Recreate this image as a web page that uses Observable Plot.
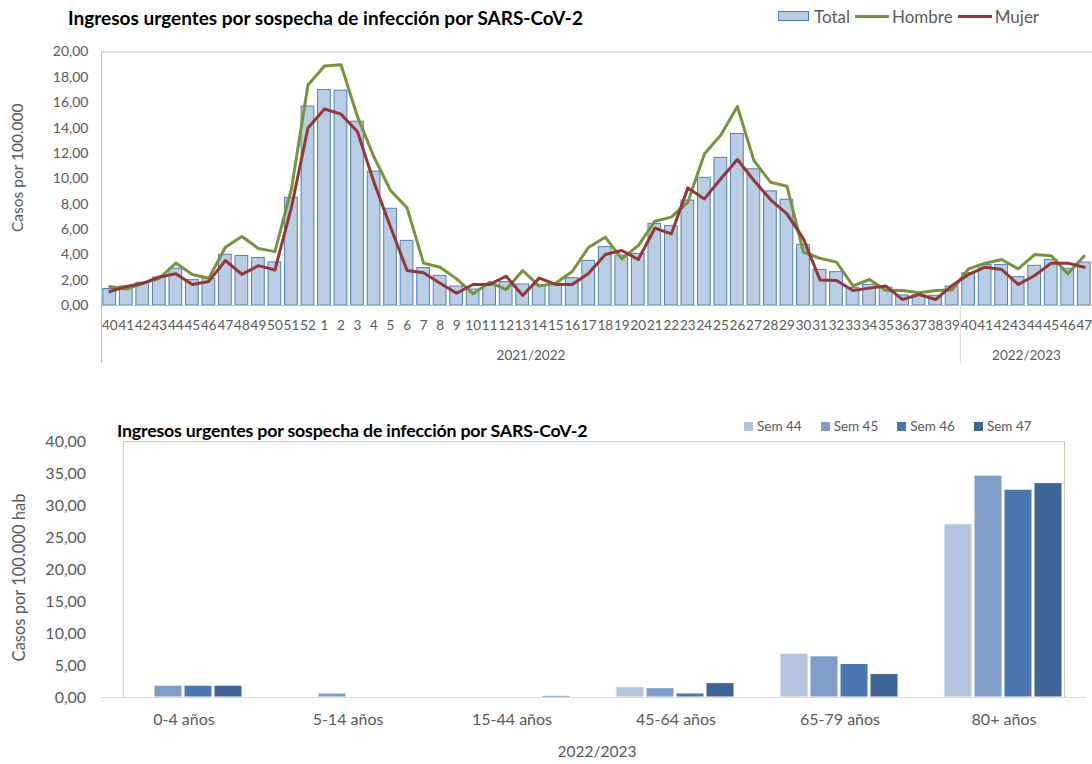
<!DOCTYPE html>
<html>
<head>
<meta charset="utf-8">
<script src="https://cdn.jsdelivr.net/npm/d3@7"></script>
<script src="https://cdn.jsdelivr.net/npm/@observablehq/plot@0.6"></script>
<style>
  html, body { margin: 0; padding: 0; background: #fff; }
  #wrap { position: relative; width: 1092px; height: 764px; overflow: hidden; font-family: Lato, "Open Sans", sans-serif; }
  #top, #bottom { position: absolute; left: 0; }
  #top { top: 0; }
  #bottom { top: 400px; }
  .title { position: absolute; font-weight: bold; color: #000; white-space: nowrap; line-height: 22px; }
  .legend { position: absolute; display: flex; align-items: center; color: #595959; white-space: nowrap; }
  .legend .item { display: flex; align-items: center; }
</style>
</head>
<body>
<div id="wrap">
  <div id="top"></div>
  <div id="bottom"></div>
  <div class="title" style="left:68px; top:7px; font-size:19px;">Ingresos urgentes por sospecha de infección por SARS-CoV-2</div>
  <div class="legend" id="legTop" style="left:778px; top:6px; height:20px; font-size:17px;"></div>
  <div class="title" style="left:117px; top:419px; font-size:17.8px; letter-spacing:-0.2px;">Ingresos urgentes por sospecha de infección por SARS-CoV-2</div>
  <div class="legend" id="legBottom" style="left:744px; top:417px; height:18px; font-size:13.5px;"></div>
</div>
<script>
// ---------- Top chart data ----------
const weekLabels = [40,41,42,43,44,45,46,47,48,49,50,51,52,
  1,2,3,4,5,6,7,8,9,10,11,12,13,14,15,16,17,18,19,20,21,22,23,24,25,26,27,28,29,30,31,32,33,34,35,36,37,38,39,
  40,41,42,43,44,45,46,47];
const seasonNames = ["2021/2022", "2022/2023"];
const seasonWeekCounts = [52, 8];
const totalValues = [1.3,1.5,1.8,2.2,2.9,2.0,2.1,4.0,3.9,3.75,3.4,8.5,15.7,
  17.0,16.95,14.5,10.57,7.63,5.1,2.95,2.34,1.5,1.26,
  1.58,1.84,1.66,1.58,1.66,2.16,3.52,4.6,3.94,4.08,
  6.44,6.26,8.28,10.07,11.65,13.54,10.75,9.0,8.34,4.79,
  2.81,2.63,1.39,1.63,1.4,0.79,0.79,0.76,1.5,
  2.55,3.2,3.2,2.24,3.13,3.6,2.9,3.39];
const hombreValues = [1.5,1.3,1.75,2.15,3.35,2.45,2.15,4.6,5.45,4.5,4.25,9.2,17.4,
  18.9,19.0,14.9,11.7,9.07,7.7,3.34,3.02,2.1,0.92,
  1.84,1.26,2.76,1.53,1.76,2.68,4.6,5.39,3.68,4.73,
  6.65,6.97,8.15,11.96,13.46,15.7,11.44,9.73,9.41,4.2,
  3.73,3.42,1.55,2.05,1.18,1.18,1.0,1.18,1.24,
  2.89,3.34,3.63,2.89,4.02,3.92,2.5,3.9];
const mujerValues = [1.1,1.5,1.75,2.25,2.5,1.65,1.9,3.55,2.45,3.15,2.8,7.75,14.0,
  15.5,15.1,13.7,9.7,6.2,2.76,2.58,1.76,0.97,1.66,
  1.66,2.31,0.79,2.16,1.66,1.66,2.55,4.02,4.34,3.63,
  6.1,5.65,9.28,8.41,10.0,11.52,9.86,8.36,7.23,5.26,
  2.02,1.97,1.18,1.37,1.53,0.47,0.87,0.47,1.58,
  2.45,3.02,2.84,1.66,2.37,3.34,3.34,3.02];
const topYTicks = [0,2,4,6,8,10,12,14,16,18,20];

// ---------- Bottom chart data ----------
const ageGroups = ["0-4 años","5-14 años","15-44 años","45-64 años","65-79 años","80+ años"];
const semanas = ["Sem 44","Sem 45","Sem 46","Sem 47"];
const sem44 = [0, 0, 0, 1.62, 6.85, 27.08];
const sem45 = [1.85, 0.63, 0, 1.46, 6.43, 34.67];
const sem46 = [1.85, 0, 0, 0.63, 5.23, 32.47];
const sem47 = [1.85, 0, 0.26, 2.25, 3.66, 33.5];
const bottomYTicks = [0,5,10,15,20,25,30,35,40];
const semColors = ["#b4c4de", "#7f9dc8", "#4a77b0", "#3d6595"];

const fmt = d => d.toFixed(2).replace(".", ",");

// ---------- Top chart ----------
const topData = weekLabels.map((w, i) => ({
  i, week: w, total: totalValues[i], hombre: hombreValues[i], mujer: mujerValues[i]
}));
const seasons = [];
{ let s = 0; seasonNames.forEach((name, k) => { seasons.push({name, start: s, count: seasonWeekCounts[k]}); s += seasonWeekCounts[k]; }); }

const W = 1092, mL = 101, mR = 0;
const step = (W - mL - mR) / weekLabels.length;

const topPlot = Plot.plot({
  width: W, height: 380,
  marginTop: 51.5, marginBottom: 75, marginLeft: mL, marginRight: mR,
  style: { fontFamily: "Lato, sans-serif", color: "#595959", background: "#fff", overflow: "visible" },
  x: { type: "band", domain: topData.map(d => d.i), paddingInner: 0.23, paddingOuter: 0.115, axis: null },
  y: { domain: [0, 20], axis: null },
  marks: [
    Plot.ruleY([20], { stroke: "#bfbfbf" }),
    Plot.barY(topData, { x: "i", y: "total", fill: "#b9cde5", stroke: "#4f81bd", strokeWidth: 1 }),
    Plot.ruleY([0], { stroke: "#bfbfbf" }),
    Plot.line(topData, { x: "i", y: "hombre", stroke: "#77933c", strokeWidth: 3, strokeLinejoin: "round" }),
    Plot.line(topData, { x: "i", y: "mujer", stroke: "#953735", strokeWidth: 3, strokeLinejoin: "round" }),
    // left axis line (extends into category area)
    Plot.ruleX([seasons[0]], { x: d => d.start, dx: -step / 2, y1: 20, y2: 0, insetBottom: -58, stroke: "#bfbfbf" }),
    // season separators
    Plot.ruleX(seasons.slice(1), { x: d => d.start, dx: -step / 2, y1: 0, y2: 0, insetBottom: -58, stroke: "#d9d9d9" }),
    Plot.axisX({ tickSize: 0, tickPadding: 15, fontSize: 13.5, tickFormat: i => weekLabels[i], label: null }),
    Plot.axisY({ ticks: topYTicks, tickFormat: fmt, tickSize: 0, tickPadding: 13, fontSize: 14, label: null }),
    Plot.text(seasons, {
      x: d => d.start + Math.floor((d.count - 1) / 2), y: 0,
      text: "name", dx: step / 2, dy: 50, fontSize: 13.5, fill: "#595959", lineAnchor: "middle"
    }),
    Plot.text(["Casos por 100.000"], { frameAnchor: "left", textAnchor: "middle", rotate: -90, dx: -83, dy: -11, fontSize: 15.5, fill: "#595959", lineAnchor: "middle" })
  ]
});
document.getElementById("top").appendChild(topPlot);

// ---------- Bottom chart ----------
const semValues = [sem44, sem45, sem46, sem47];
const ageData = [];
ageGroups.forEach((age, i) => semanas.forEach((sem, j) => ageData.push({ age, sem, value: semValues[j][i] })));

const bL = 100, bR = 5, bT = 41, bB = 67, bH = 364;
const fxStep = (W - bL - bR) / ageGroups.length;
const fxOuter = fxStep * 0.13;

const bottomPlot = Plot.plot({
  width: W, height: bH,
  marginTop: bT, marginBottom: bB, marginLeft: bL, marginRight: bR,
  style: { fontFamily: "Lato, sans-serif", color: "#595959", background: "#fff", overflow: "visible" },
  fx: { domain: ageGroups, paddingInner: 0.26, paddingOuter: 0.13, label: null, axis: null },
  x: { domain: semanas, paddingInner: 0.06, paddingOuter: 0, axis: null },
  y: { domain: [0, 40], axis: null },
  color: { domain: semanas, range: semColors },
  marks: [
    Plot.frame({ facet: "super", stroke: "#cfcbb0" }),
    Plot.barY(ageData.filter(d => d.value > 0), { fx: "age", x: "sem", y: "value", fill: "sem", stroke: "#fff", strokeWidth: 1 }),
    Plot.ruleY([0], { stroke: "#d9d9d9", insetLeft: -fxOuter - 0.5, insetRight: -fxOuter - 0.5 }),
    Plot.frame({ facet: "super", fill: "#d9d9d9", stroke: null, insetTop: bH - bT - bB, insetBottom: -bB, insetRight: W - bL - bR - 1 }),
    Plot.axisY({ ticks: bottomYTicks, tickFormat: fmt, tickSize: 0, tickPadding: 16 + fxOuter, fontSize: 16, label: null }),
    Plot.axisFx({ anchor: "bottom", tickSize: 0, tickPadding: 16, fontSize: 16, label: null }),
    Plot.text(["2022/2023"], { facet: "super", frameAnchor: "bottom", dx: 3, dy: 55, fontSize: 15.5, fill: "#595959", lineAnchor: "middle" }),
    Plot.text(["Casos por 100.000 hab"], { facet: "super", frameAnchor: "left", textAnchor: "middle", rotate: -90, dx: -82 - fxOuter, dy: 8, fontSize: 16.5, fill: "#595959", lineAnchor: "middle" })
  ]
});
document.getElementById("bottom").appendChild(bottomPlot);

// ---------- Legends ----------
const legTop = document.getElementById("legTop");
legTop.innerHTML = `
  <div class="item"><span style="display:inline-block;width:29px;height:8px;background:#b9cde5;border:1px solid #4f81bd;margin-right:5px"></span>Total</div>
  <div class="item" style="margin-left:5px"><span style="display:inline-block;width:34px;height:3px;background:#77933c;margin-right:3px"></span>Hombre</div>
  <div class="item" style="margin-left:5px"><span style="display:inline-block;width:34px;height:3px;background:#953735;margin-right:3px"></span>Mujer</div>`;

const legBottom = document.getElementById("legBottom");
legBottom.innerHTML = semanas.map((s, j) =>
  `<div class="item" style="margin-left:${j ? 19 : 0}px"><span style="display:inline-block;width:9px;height:9px;background:${semColors[j]};margin-right:4px"></span>${s}</div>`
).join("");
</script>
</body>
</html>
